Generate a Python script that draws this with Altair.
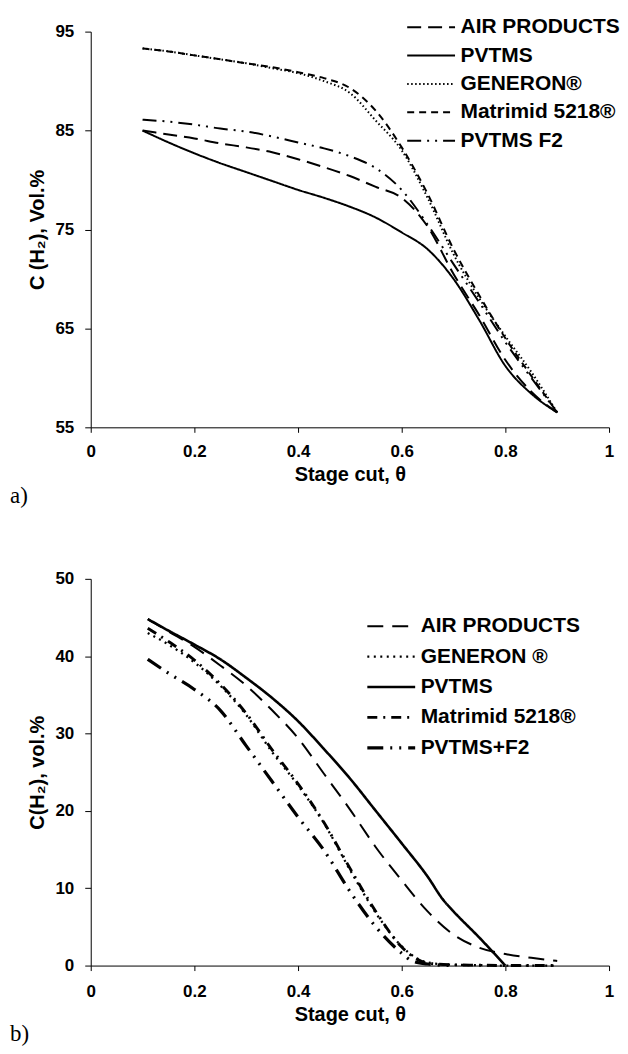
import altair as alt
import pandas as pd

# ---------------- panel a) ----------------
series_a = ["AIR PRODUCTS", "PVTMS", "GENERON®", "Matrimid 5218®", "PVTMS F2"]
dash_a = [[14, 7], [1, 0], [1.5, 2.5], [7, 5], [14, 6, 2, 6, 2, 6]]
width_a = [2, 2, 1.6, 2, 2]

x_a = [0.10, 0.15, 0.20, 0.25, 0.30, 0.35, 0.40, 0.45, 0.50,
       0.55, 0.60, 0.65, 0.70, 0.75, 0.80, 0.85, 0.90]
a_air = [85.0, 84.6, 84.2, 83.7, 83.3, 82.8, 82.1, 81.3, 80.4,
         79.3, 78.2, 75.3, 70.5, 66.3, 61.8, 58.6, 56.5]
a_pvtms = [85.0, 83.8, 82.7, 81.7, 80.8, 79.9, 79.0, 78.2, 77.3,
           76.2, 74.7, 73.0, 70.0, 65.8, 61.2, 58.4, 56.5]
a_generon = [93.3, 93.0, 92.6, 92.2, 91.8, 91.3, 90.8, 90.0, 88.8,
             86.0, 83.0, 78.2, 72.5, 68.0, 64.2, 60.6, 56.5]
a_matrimid = [93.3, 93.0, 92.6, 92.2, 91.8, 91.4, 90.9, 90.3, 89.3,
              87.0, 83.3, 78.6, 73.0, 68.3, 64.0, 60.2, 56.5]
a_f2 = [86.1, 85.9, 85.6, 85.2, 84.9, 84.4, 83.8, 83.2, 82.4,
        81.2, 79.0, 75.5, 71.5, 67.6, 63.6, 60.0, 56.5]

# ---------------- panel b) ----------------
series_b = ["AIR PRODUCTS", "GENERON ®", "PVTMS", "Matrimid 5218®", "PVTMS+F2"]
dash_b = [[16, 9], [2, 4.5], [1, 0], [10, 6, 2, 6], [16, 7, 2, 7, 2, 7]]
width_b = [2, 3.2, 2, 2, 2]

b_air_x = [0.11, 0.15, 0.20, 0.25, 0.30, 0.35, 0.40, 0.45, 0.50,
           0.55, 0.60, 0.65, 0.70, 0.75, 0.80, 0.85, 0.90]
b_air = [44.8, 43.2, 41.2, 38.8, 36.2, 33.0, 29.4, 24.8, 20.2,
         15.3, 11.0, 7.0, 4.0, 2.3, 1.5, 1.0, 0.6]
b_gen_x = [0.11, 0.15, 0.20, 0.25, 0.30, 0.35, 0.40, 0.45, 0.50,
           0.55, 0.60, 0.63, 0.65, 0.70, 0.75, 0.80, 0.85, 0.90]
b_generon = [43.0, 41.5, 39.2, 36.2, 32.4, 27.6, 23.3, 18.4, 12.4,
             6.8, 2.5, 0.9, 0.4, 0.1, 0.05, 0.0, 0.0, 0.0]
b_pv_x = [0.11, 0.15, 0.20, 0.25, 0.30, 0.35, 0.40, 0.45, 0.50,
          0.55, 0.60, 0.65, 0.68, 0.70, 0.75, 0.80]
b_pvtms = [44.8, 43.3, 41.5, 39.6, 37.2, 34.6, 31.6, 28.0, 24.2,
           20.0, 15.8, 11.5, 8.5, 7.0, 3.6, 0.0]
b_mat_x = b_gen_x
b_matrimid = [43.6, 41.9, 39.5, 36.4, 32.6, 27.9, 23.5, 18.5, 12.6,
              7.0, 2.4, 0.8, 0.3, 0.1, 0.05, 0.0, 0.0, 0.0]
b_f2_x = [0.11, 0.15, 0.20, 0.25, 0.30, 0.35, 0.40, 0.45, 0.50,
          0.55, 0.60, 0.62, 0.65, 0.70]
b_f2 = [39.6, 37.8, 35.7, 33.0, 28.4, 23.8, 19.2, 14.9, 9.6,
        5.0, 1.6, 0.6, 0.2, 0.0]

x_ticks = [0, 0.2, 0.4, 0.6, 0.8, 1]
y_ticks_a = [55, 65, 75, 85, 95]
y_ticks_b = [0, 10, 20, 30, 40, 50]


def long_df(names, xs_list, ys_list):
    rows = []
    for n, xs, ys in zip(names, xs_list, ys_list):
        for i, (xv, yv) in enumerate(zip(xs, ys)):
            rows.append({"series": n, "x": xv, "y": yv, "order": i})
    return pd.DataFrame(rows)


df_a = long_df(series_a, [x_a] * 5, [a_air, a_pvtms, a_generon, a_matrimid, a_f2])
df_b = long_df(series_b, [b_air_x, b_gen_x, b_pv_x, b_mat_x, b_f2_x],
               [b_air, b_generon, b_pvtms, b_matrimid, b_f2])

W = 520
FONT = "Liberation Sans"


def panel(df, names, dashes, widths, ydom, yvals, ytitle, lx, ly, rowpad,
          tag, tag_y, height, xlabpad):
    lines = alt.Chart(df).mark_line(interpolate="monotone", color="black").encode(
        x=alt.X("x:Q", scale=alt.Scale(domain=[0, 1], nice=False),
                axis=alt.Axis(values=x_ticks, format="~g", title="Stage cut, θ",
                              tickSize=5, labelPadding=xlabpad, titlePadding=5)),
        y=alt.Y("y:Q", scale=alt.Scale(domain=ydom, nice=False, zero=False),
                axis=alt.Axis(values=yvals, format="d", title=ytitle,
                              tickSize=6, labelPadding=11, titlePadding=7)),
        strokeDash=alt.StrokeDash(
            "series:N", sort=names,
            scale=alt.Scale(domain=names, range=dashes),
            legend=alt.Legend(orient="none", legendX=lx, legendY=ly, title=None,
                              rowPadding=rowpad)),
        strokeWidth=alt.StrokeWidth(
            "series:N", scale=alt.Scale(domain=names, range=widths), legend=None),
        order="order:Q",
    )
    label = alt.Chart(pd.DataFrame({"t": [tag]})).mark_text(
        align="left", baseline="alphabetic", font="Liberation Serif",
        fontSize=23, color="black", x=-81, y=tag_y).encode(text="t:N")
    return alt.layer(lines, label).properties(width=W, height=height)


top = panel(df_a, series_a, dash_a, width_a, [55, 95], y_ticks_a,
            "C (H₂), Vol.%", 350, -15, 6.5, "a)", 473, 397, 11)
bottom = panel(df_b, series_b, dash_b, width_b, [0, 50], y_ticks_b,
               "C(H₂), vol.%", 310, 37, 8.5, "b)", 464, 388, 13)

chart = alt.vconcat(top, bottom, spacing=152, bounds="flush").resolve_scale(
    strokeDash="independent", strokeWidth="independent"
).resolve_legend(strokeDash="independent").properties(
    padding={"left": 2, "top": 7, "right": 0, "bottom": 0}
).configure_axis(
    labelFont=FONT, labelFontWeight="bold", labelFontSize=17, labelColor="black",
    titleFont=FONT, titleFontWeight="bold", titleFontSize=20, titleColor="black",
    domainColor="black", tickColor="black", grid=False, labelFlush=False,
    labelOverlap=False, domainWidth=1, tickWidth=1,
).configure_legend(
    labelFont=FONT, labelFontWeight="bold", labelFontSize=21, labelColor="black",
    symbolType="M-8.6,0H1", symbolSize=100, symbolStrokeWidth=2,
    symbolStrokeColor="black", labelOffset=0, padding=0,
    labelLimit=400,
).configure_view(stroke=None)

chart.save("out.html", embed_options={"renderer": "svg", "actions": False})
